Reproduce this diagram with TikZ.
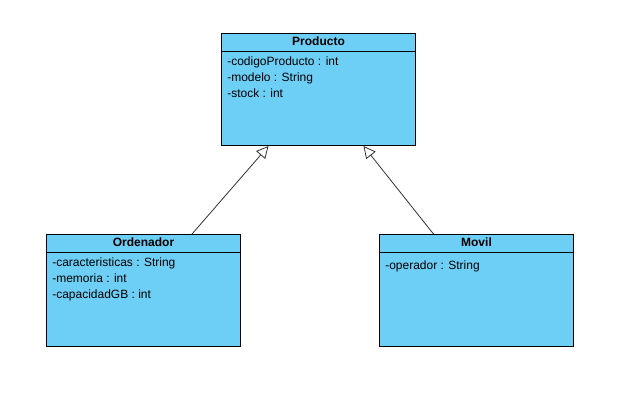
\documentclass[tikz,border=0pt]{standalone}
\usepackage{fontspec}
\setmainfont{Liberation Sans}
\usetikzlibrary{arrows.meta,calc}
\definecolor{classblue}{HTML}{6DCFF6}
\definecolor{linegray}{HTML}{333333}
\begin{document}
\begin{tikzpicture}[x=0.75pt,y=-0.75pt,font=\fontsize{9}{11}\selectfont,
  classbox/.style={draw=black,fill=classblue,line width=0.75pt,anchor=north west,inner sep=0pt,minimum width=145.5pt,minimum height=84pt},
  divider/.style={draw=black,line width=0.75pt},
  title/.style={font=\fontsize{9}{11}\selectfont\bfseries,inner sep=0pt,anchor=base},
  attr/.style={anchor=base west,inner sep=0pt},
  inherit/.style={draw=linegray,line width=0.6pt,-{Triangle[open,fill=white,length=9pt,width=9pt]}}]
\useasboundingbox (0,0) rectangle (637,412);
\fill[white] (0,0) rectangle (637,412);
% Producto
\node[classbox] (prod) at (221,33) {};
\draw[divider] ($(prod.north west)+(0,18)$) -- ($(prod.north east)+(0,18)$);
\node[title] (prodt) at ($(prod.north)+(0,12.5)$) {Producto};
\node[attr] (prod1) at ($(prod.north west)+(6,32.5)$) {-codigoProducto : int};
\node[attr] (prod2) at ($(prod.north west)+(6,48.5)$) {-modelo : String};
\node[attr] (prod3) at ($(prod.north west)+(6,64.5)$) {-stock : int};
% Ordenador
\node[classbox] (ord) at (46,234) {};
\draw[divider] ($(ord.north west)+(0,18)$) -- ($(ord.north east)+(0,18)$);
\node[title] (ordt) at ($(ord.north)+(0,12.5)$) {Ordenador};
\node[attr] (ord1) at ($(ord.north west)+(6,32.5)$) {-caracteristicas : String};
\node[attr] (ord2) at ($(ord.north west)+(6,48.5)$) {-memoria : int};
\node[attr] (ord3) at ($(ord.north west)+(6,64.5)$) {-capacidadGB : int};
% Movil
\node[classbox] (mov) at (379,234) {};
\draw[divider] ($(mov.north west)+(0,18)$) -- ($(mov.north east)+(0,18)$);
\node[title] (movt) at ($(mov.north)+(0,12.5)$) {Movil};
\node[attr] (mov1) at ($(mov.north west)+(6,35.5)$) {-operador : String};
% Inheritance
\draw[inherit] ([xshift=36.4pt]ord.north) -- ([xshift=-37.5pt]prod.south);
\draw[inherit] ([xshift=-32.25pt]mov.north) -- ([xshift=33.75pt]prod.south);
\end{tikzpicture}
\end{document}
